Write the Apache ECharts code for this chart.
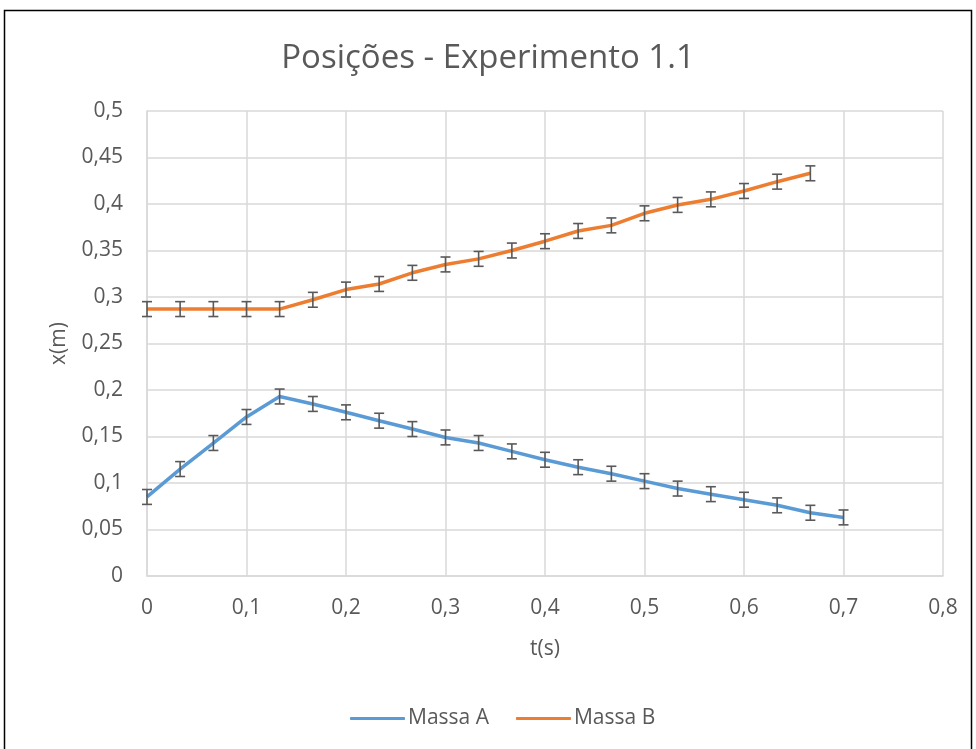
<!DOCTYPE html>
<html>
<head>
<meta charset="utf-8">
<script src="https://cdn.jsdelivr.net/npm/echarts@6/dist/echarts.min.js"></script>
<style>
  html, body { margin: 0; padding: 0; background: #fff; }
  #chart { width: 976px; height: 749px; }
</style>
</head>
<body>
<div id="chart"></div>
<script>
// Time instants (s), one frame every 1/30 s
var tempos = [0, 0.0333, 0.0667, 0.1, 0.1333, 0.1667, 0.2, 0.2333, 0.2667, 0.3, 0.3333,
              0.3667, 0.4, 0.4333, 0.4667, 0.5, 0.5333, 0.5667, 0.6, 0.6333, 0.6667, 0.7];

// Positions (m)
var massaA = [0.085, 0.115, 0.143, 0.171, 0.193, 0.185, 0.176, 0.167, 0.158, 0.149, 0.143,
              0.134, 0.125, 0.117, 0.110, 0.102, 0.094, 0.088, 0.082, 0.076, 0.068, 0.063];
var massaB = [0.287, 0.287, 0.287, 0.287, 0.287, 0.297, 0.308, 0.314, 0.326, 0.335, 0.341,
              0.350, 0.360, 0.371, 0.377, 0.390, 0.399, 0.405, 0.414, 0.424, 0.433];

// Measurement uncertainty (m)
var erroA = 0.008;
var erroB = 0.008;

var seriesNames = ['Massa A', 'Massa B'];
var tituloGrafico = 'Posições - Experimento 1.1';

var FONT = '"Open Sans", Lato, sans-serif';
var TEXT = '#595959';

function pares(vals) {
  return vals.map(function (v, i) { return [tempos[i], v]; });
}
function barras(vals, e) {
  return vals.map(function (v, i) { return [tempos[i], v - e, v + e]; });
}
function virgula(v) {
  return String(parseFloat(v.toFixed(2))).replace('.', ',');
}

// Vertical error bar with caps
function desenhaErro(params, api) {
  var x = api.value(0);
  var lo = api.coord([x, api.value(1)]);
  var hi = api.coord([x, api.value(2)]);
  var w = 5;
  var st = { stroke: '#595959', lineWidth: 1.6 };
  return {
    type: 'group',
    children: [
      { type: 'line', shape: { x1: lo[0], y1: lo[1], x2: hi[0], y2: hi[1] }, style: st },
      { type: 'line', shape: { x1: lo[0] - w, y1: lo[1], x2: lo[0] + w, y2: lo[1] }, style: st },
      { type: 'line', shape: { x1: hi[0] - w, y1: hi[1], x2: hi[0] + w, y2: hi[1] }, style: st }
    ]
  };
}

var chart = echarts.init(document.getElementById('chart'), null, { renderer: 'canvas' });

chart.setOption({
  backgroundColor: '#fff',
  animation: false,
  title: {
    text: tituloGrafico,
    left: 'center',
    top: 37,
    textStyle: { fontFamily: FONT, fontSize: 33, fontWeight: 'normal', color: TEXT }
  },
  graphic: [{
    type: 'rect',
    shape: { x: 4.5, y: 10.5, width: 967, height: 760 },
    style: { fill: 'none', stroke: '#000', lineWidth: 1.5 },
    silent: true
  }],
  legend: {
    data: seriesNames,
    bottom: 15,
    left: 345,
    itemWidth: 55,
    itemHeight: 3,
    itemGap: 27,
    icon: 'roundRect',
    textStyle: { fontFamily: FONT, fontSize: 21, color: TEXT, padding: [0, 0, 0, -2] }
  },
  grid: { left: 147, right: 33, top: 111, bottom: 173, containLabel: false },
  xAxis: {
    type: 'value',
    min: 0, max: 0.8, interval: 0.1,
    name: 't(s)',
    nameLocation: 'middle',
    nameGap: 63,
    nameTextStyle: { fontFamily: FONT, fontSize: 21, color: TEXT },
    axisLine: { show: true, lineStyle: { color: '#d9d9d9', width: 1.5 } },
    axisTick: { show: false },
    axisLabel: { fontFamily: FONT, fontSize: 21, color: TEXT, margin: 22, formatter: virgula },
    splitLine: { show: true, lineStyle: { color: '#d9d9d9', width: 1.5 } }
  },
  yAxis: {
    type: 'value',
    min: 0, max: 0.5, interval: 0.05,
    name: 'x(m)',
    nameLocation: 'middle',
    nameGap: 77,
    nameRotate: 90,
    nameTextStyle: { fontFamily: FONT, fontSize: 21, color: TEXT },
    axisLine: { show: true, lineStyle: { color: '#d9d9d9', width: 1.5 } },
    axisTick: { show: false },
    axisLabel: { fontFamily: FONT, fontSize: 21, color: TEXT, margin: 24, formatter: virgula },
    splitLine: { show: true, lineStyle: { color: '#d9d9d9', width: 1.5 } }
  },
  series: [
    {
      name: seriesNames[0], type: 'line', data: pares(massaA),
      showSymbol: false, symbol: 'none',
      lineStyle: { color: '#5B9BD5', width: 3.5 }, itemStyle: { color: '#5B9BD5' }, z: 3
    },
    {
      name: seriesNames[1], type: 'line', data: pares(massaB),
      showSymbol: false, symbol: 'none',
      lineStyle: { color: '#ED7D31', width: 3.5 }, itemStyle: { color: '#ED7D31' }, z: 3
    },
    {
      name: 'erroA', type: 'custom', renderItem: desenhaErro,
      data: barras(massaA, erroA), encode: { x: 0, y: [1, 2] }, z: 4, silent: true
    },
    {
      name: 'erroB', type: 'custom', renderItem: desenhaErro,
      data: barras(massaB, erroB), encode: { x: 0, y: [1, 2] }, z: 4, silent: true
    }
  ]
});
</script>
</body>
</html>
